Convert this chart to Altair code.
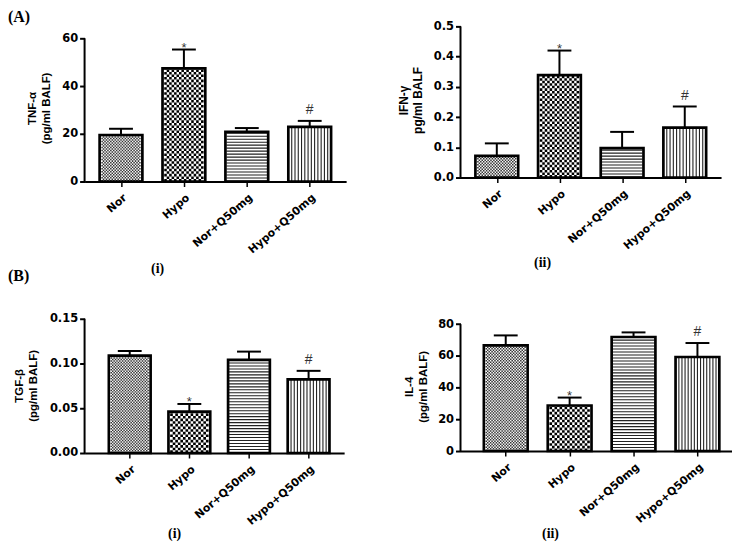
import json
import altair as alt
import pandas as pd

# ---------------- data ----------------
groups = ["Nor", "Hypo", "Nor+Q50mg", "Hypo+Q50mg"]
signif = ["", "*", "", "#"]

tnf_mean = [19.5, 47.4, 20.8, 22.9]
tnf_upper = [22.1, 55.3, 22.4, 25.4]
ifn_mean = [0.0715, 0.3385, 0.097, 0.165]
ifn_upper = [0.113, 0.42, 0.151, 0.235]
tgf_mean = [0.1089, 0.0462, 0.104, 0.0822]
tgf_upper = [0.114, 0.0548, 0.1133, 0.0918]
il4_mean = [66.6, 28.7, 71.9, 59.3]
il4_upper = [72.9, 33.7, 74.8, 68.1]

tnf_ticks = [0, 20, 40, 60]
ifn_ticks = [0, 0.1, 0.2, 0.3, 0.4, 0.5]
tgf_ticks = [0, 0.05, 0.10, 0.15]
il4_ticks = [0, 20, 40, 60, 80]

tnf_title = ["TNF-α", "(pg/ml BALF)"]
ifn_title = ["IFN-γ", "pg/ml BALF"]
tgf_title = ["TGF-β", "(pg/ml BALF)"]
il4_title = ["IL-4", "(pg/ml BALF)"]

# fill pattern of each group's bar
patterns = ["fine_check", "check", "hlines", "vlines"]

LABEL_EXPR = json.dumps(groups) + "[datum.value]"


def panel(mean, upper, ticks, fmt, ytitle, sub, width, height, ytop, xdom, bw,
          tx, ty, sx, sy, tsize=11.5, letter=None, letter_y=-17):
    step = width / (xdom[1] - xdom[0])
    df = pd.DataFrame({"i": list(range(len(groups))), "group": groups,
                       "mean": mean, "upper": upper, "sig": signif})
    df["lo"] = 0.0

    xs = alt.Scale(domain=xdom, nice=False, zero=False)
    ys = alt.Scale(domain=[0, ytop], nice=False, zero=True)
    xaxis = alt.Axis(values=list(range(len(groups))), labelExpr=LABEL_EXPR,
                     labelAngle=-41, labelAlign="right", labelBaseline="top",
                     labelFont="DejaVu Sans", labelFontWeight="bold", labelFontSize=11,
                     labelColor="black", labelOverlap=False, labelFlush=False,
                     labelPadding=5, domainColor="black", domainWidth=2,
                     tickColor="black", tickWidth=1.5, tickSize=5, grid=False,
                     title=sub, titleFont="Liberation Serif", titleFontSize=14,
                     titleFontWeight="bold", titleColor="black", titleX=sx, titleY=sy,
                     titleAlign="center", titleBaseline="middle", titleAngle=0)
    yaxis = alt.Axis(values=ticks, format=fmt, labelFont="DejaVu Sans",
                     labelFontWeight="bold", labelFontSize=11.5, labelColor="black",
                     labelPadding=2, domain=False, tickColor="black", tickWidth=2,
                     tickSize=5, grid=False, title=ytitle, titleFont="Liberation Sans",
                     titleFontSize=tsize, titleFontWeight="bold", titleColor="black",
                     titleLineHeight=14, titleX=tx, titleY=ty, titleAngle=-90,
                     titleAlign="center", titleBaseline="bottom")

    def X(f):
        return alt.X(f, type="quantitative", scale=xs, axis=xaxis)

    def Y(f):
        return alt.Y(f, type="quantitative", scale=ys, axis=yaxis, stack=None)

    base = alt.Chart(df)
    layers = [base.mark_bar(size=bw, orient="vertical", fill="white", strokeWidth=0)
              .encode(x=X("i"), y=Y("mean"))]

    # pattern columns built from each bar's value
    def cols(kind, cell):
        rows = []
        c = cell
        for idx, p in enumerate(patterns):
            if p != kind:
                continue
            n = max(1, round((bw - 2) / cell))
            c = (bw - 2) / n
            for k in range(n):
                rows.append({"x": idx + (-(bw - 2) / 2 + (k + 0.5) * c) / step,
                             "lo": 0.0, "top": mean[idx], "par": k % 2})
        return pd.DataFrame(rows), c

    for kind, cell, col in (("fine_check", 1.5, "#333"), ("check", 2.6, "black")):
        cdf, c = cols(kind, cell)
        for par in (0, 1):
            layers.append(
                alt.Chart(cdf[cdf.par == par]).mark_rule(
                    strokeWidth=c, strokeDash=[c, c], strokeDashOffset=c * par,
                    color=col, strokeCap="butt")
                .encode(x=X("x"), y=Y("lo"), y2="top"))
    vdf, vc = cols("vlines", 3.3)
    layers.append(alt.Chart(vdf).mark_rule(strokeWidth=1.1, color="#222")
                  .encode(x=X("x"), y=Y("lo"), y2="top"))
    hdf = df[[p == "hlines" for p in patterns]]
    layers.append(alt.Chart(hdf).mark_rule(strokeWidth=bw - 2, strokeDash=[1.1, 1.9],
                                           color="#222", strokeCap="butt")
                  .encode(x=X("i"), y=Y("lo"), y2="mean"))

    layers += [
        base.mark_bar(size=bw, orient="vertical", fillOpacity=0, stroke="black",
                      strokeWidth=2.7).encode(x=X("i"), y=Y("mean")),
        base.mark_rule(strokeWidth=2, color="black").encode(x=X("i"), y=Y("mean"), y2="upper"),
        base.mark_tick(orient="horizontal", size=24, thickness=2, color="black", opacity=1)
        .encode(x=X("i"), y=Y("upper")),
        base.transform_filter("datum.sig == '*'").mark_text(
            font="Liberation Sans", fontSize=13, color="#333", dy=-2)
        .encode(x=X("i"), y=Y("upper"), text="sig:N"),
        base.transform_filter("datum.sig == '#'").mark_text(
            font="Liberation Sans", fontSize=14, color="#333", dy=-11)
        .encode(x=X("i"), y=Y("upper"), text="sig:N"),
        alt.Chart(pd.DataFrame({"lo": [ticks[0]], "hi": [ticks[-1]]}))
        .mark_rule(strokeWidth=2, color="black")
        .encode(x=alt.value(0), y=Y("lo"), y2="hi"),
    ]
    if letter:
        layers.append(
            alt.Chart(pd.DataFrame({"t": [letter]})).mark_text(
                font="Liberation Serif", fontWeight="bold", fontSize=16,
                align="left", baseline="top", color="black")
            .encode(x=alt.value(-77), y=alt.value(letter_y), text="t:N"))
    return alt.layer(*layers).properties(width=width, height=height)


A1 = panel(tnf_mean, tnf_upper, tnf_ticks, "d", tnf_title, "(i)", 263, 156, 65,
           [-0.5, 3.5], 43, -47, 82, 73, 87, letter="(A)", letter_y=-17)
A2 = panel(ifn_mean, ifn_upper, ifn_ticks, ".1f", ifn_title, "(ii)", 262, 152, 0.5,
           [-0.5, 3.5], 43, -50, 74, 82, 85, tsize=12)
B1 = panel(tgf_mean, tgf_upper, tgf_ticks, ".2f", tgf_title, "(i)", 261, 135, 0.15,
           [-0.674, 3.513], 42, -60, 67, 90, 81, letter="(B)", letter_y=-51)
B2 = panel(il4_mean, il4_upper, il4_ticks, "d", il4_title, "(ii)", 273, 133, 83.4,
           [-0.63, 3.463], 44, -46, 68, 90, 83)

chart = (alt.concat(A1, A2, B1, B2, columns=2, bounds="flush",
                    spacing={"row": 138, "column": 115})
         .properties(padding=0, background="white")
         .configure_view(stroke=None))

chart.save("out.html", embed_options={"renderer": "svg", "actions": False})
